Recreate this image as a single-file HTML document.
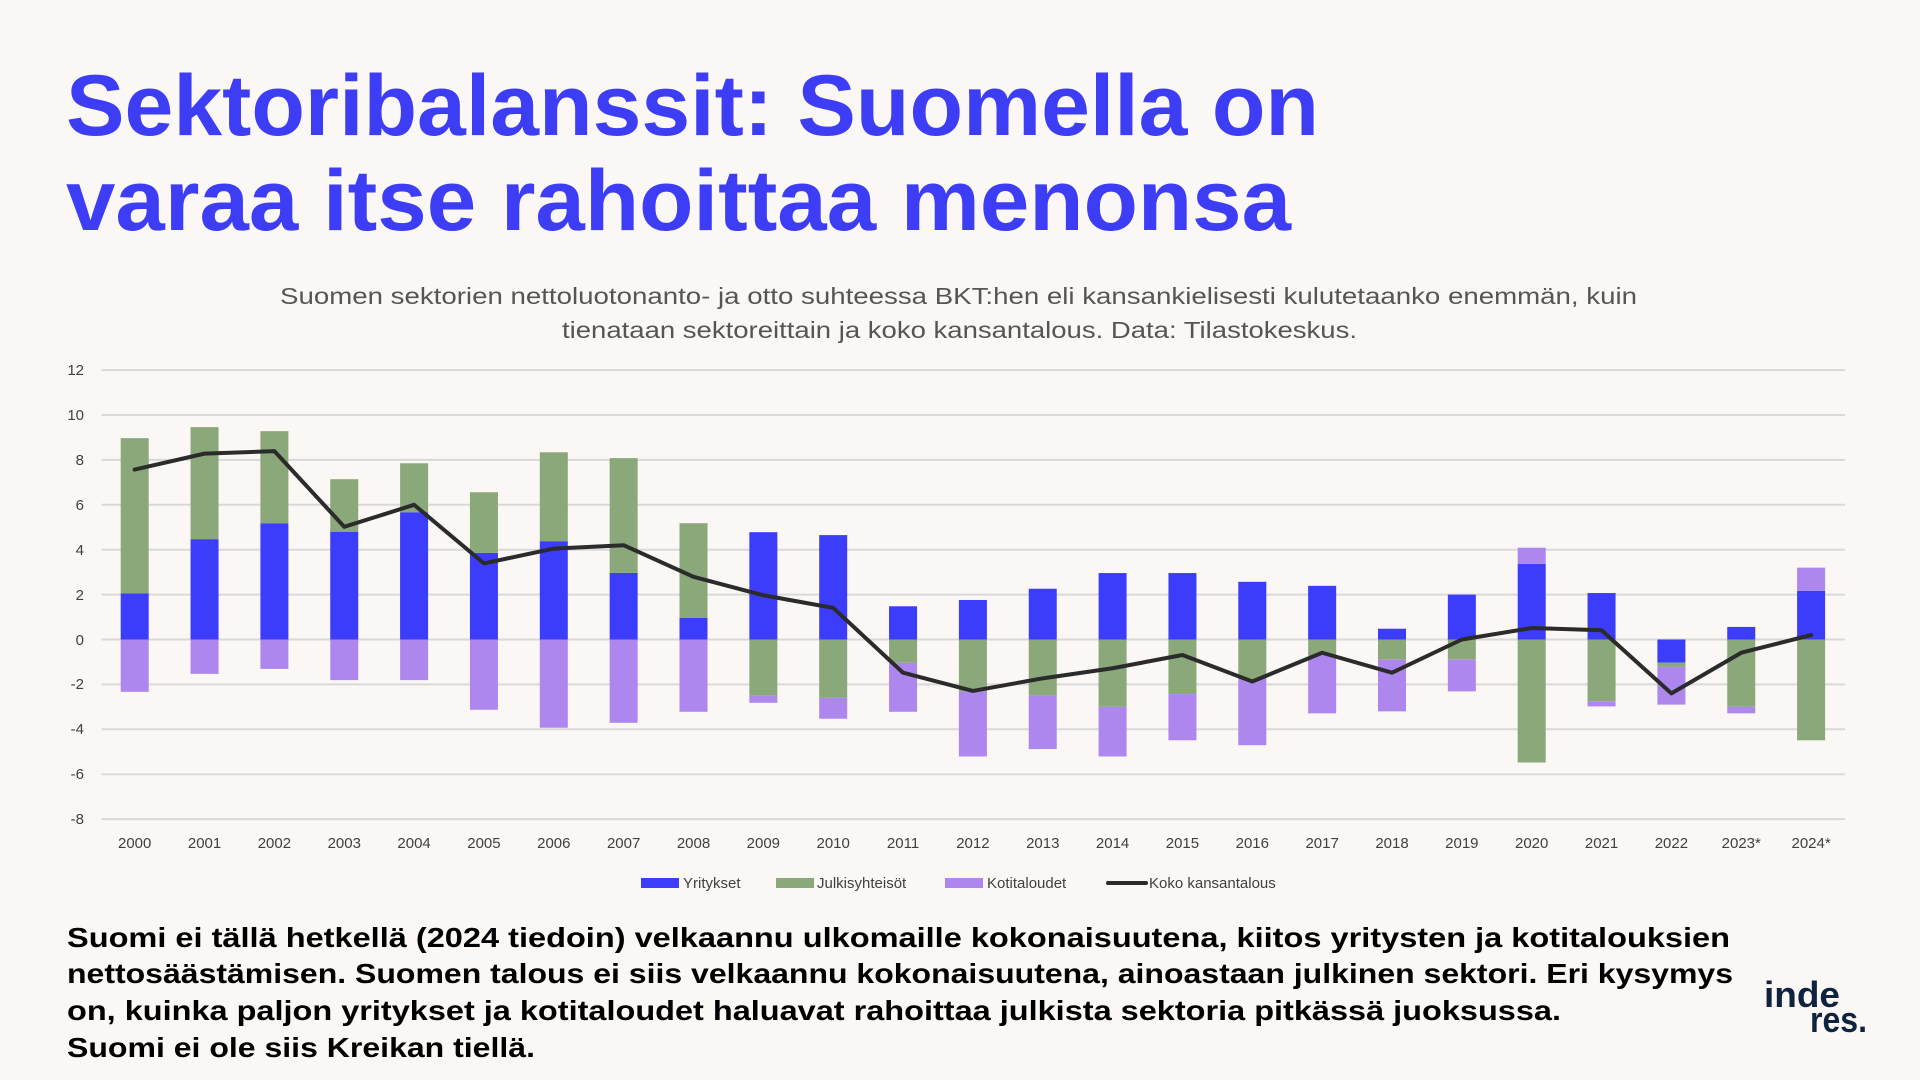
<!DOCTYPE html>
<html><head><meta charset="utf-8"><style>
html,body{margin:0;padding:0;background:#faf7f4;}
svg{display:block}
</style></head><body>
<svg width="1920" height="1080" viewBox="0 0 1920 1080" xmlns="http://www.w3.org/2000/svg">
<rect width="1920" height="1080" fill="#faf7f4"/>
<g font-family="Liberation Sans, Arial, sans-serif" font-weight="bold" fill="#3d3df5" font-size="86">
<text x="66" y="135" textLength="1253" lengthAdjust="spacingAndGlyphs">Sektoribalanssit: Suomella on</text>
<text x="66" y="230" textLength="1225" lengthAdjust="spacingAndGlyphs">varaa itse rahoittaa menonsa</text>
</g>
<g font-family="Liberation Sans, Arial, sans-serif" fill="#555" font-size="23">
<text x="280" y="304" textLength="1357" lengthAdjust="spacingAndGlyphs">Suomen sektorien nettoluotonanto- ja otto suhteessa BKT:hen eli kansankielisesti kulutetaanko enemmän, kuin</text>
<text x="562" y="338" textLength="795" lengthAdjust="spacingAndGlyphs">tienataan sektoreittain ja koko kansantalous. Data: Tilastokeskus.</text>
</g>
<g stroke="#d9d9d9" stroke-width="2">
<line x1="101.6" x2="1845" y1="370.1" y2="370.1"/><line x1="101.6" x2="1845" y1="415" y2="415"/>
<line x1="101.6" x2="1845" y1="459.9" y2="459.9"/><line x1="101.6" x2="1845" y1="504.8" y2="504.8"/>
<line x1="101.6" x2="1845" y1="549.7" y2="549.7"/><line x1="101.6" x2="1845" y1="594.6" y2="594.6"/>
<line x1="101.6" x2="1845" y1="639.5" y2="639.5"/><line x1="101.6" x2="1845" y1="684.4" y2="684.4"/>
<line x1="101.6" x2="1845" y1="729.3" y2="729.3"/><line x1="101.6" x2="1845" y1="774.2" y2="774.2"/>
<line x1="101.6" x2="1845" y1="819.1" y2="819.1"/>
</g>
<g font-family="Liberation Sans Narrow, Liberation Sans, sans-serif" font-size="15" fill="#404040" text-anchor="end">
<text x="84" y="375">12</text><text x="84" y="420">10</text><text x="84" y="465">8</text><text x="84" y="510">6</text>
<text x="84" y="555">4</text><text x="84" y="600">2</text><text x="84" y="645">0</text><text x="84" y="689">-2</text>
<text x="84" y="734">-4</text><text x="84" y="779">-6</text><text x="84" y="824">-8</text>
</g>
<g transform="translate(0,639.5) scale(1,-22.45)">
<g fill="#3c3cfb">
<rect x="120.7" y="0" width="28" height="2.06"/><rect x="190.55" y="0" width="28" height="4.47"/>
<rect x="260.4" y="0" width="28" height="5.18"/><rect x="330.25" y="0" width="28" height="4.8"/>
<rect x="400.1" y="0" width="28" height="5.67"/><rect x="469.95" y="0" width="28" height="3.86"/>
<rect x="539.8" y="0" width="28" height="4.38"/><rect x="609.65" y="0" width="28" height="2.97"/>
<rect x="679.5" y="0" width="28" height="0.97"/><rect x="749.35" y="0" width="28" height="4.78"/>
<rect x="819.2" y="0" width="28" height="4.65"/><rect x="889.05" y="0" width="28" height="1.48"/>
<rect x="958.9" y="0" width="28" height="1.76"/><rect x="1028.75" y="0" width="28" height="2.26"/>
<rect x="1098.6" y="0" width="28" height="2.96"/><rect x="1168.45" y="0" width="28" height="2.96"/>
<rect x="1238.3" y="0" width="28" height="2.57"/><rect x="1308.15" y="0" width="28" height="2.39"/>
<rect x="1378" y="0" width="28" height="0.48"/><rect x="1447.85" y="0" width="28" height="2.0"/>
<rect x="1517.7" y="0" width="28" height="3.37"/><rect x="1587.55" y="0" width="28" height="2.07"/>
<rect x="1657.4" y="-1.03" width="28" height="1.03"/><rect x="1727.25" y="0" width="28" height="0.56"/>
<rect x="1797.1" y="0" width="28" height="2.17"/>
</g>
<g fill="#8aa87a">
<rect x="120.7" y="2.06" width="28" height="6.91"/><rect x="190.55" y="4.47" width="28" height="4.99"/>
<rect x="260.4" y="5.18" width="28" height="4.1"/><rect x="330.25" y="4.8" width="28" height="2.34"/>
<rect x="400.1" y="5.67" width="28" height="2.18"/><rect x="469.95" y="3.86" width="28" height="2.7"/>
<rect x="539.8" y="4.38" width="28" height="3.96"/><rect x="609.65" y="2.97" width="28" height="5.11"/>
<rect x="679.5" y="0.97" width="28" height="4.21"/>
<rect x="749.35" y="-2.51" width="28" height="2.51"/><rect x="819.2" y="-2.6" width="28" height="2.6"/>
<rect x="889.05" y="-1.04" width="28" height="1.04"/><rect x="958.9" y="-2.32" width="28" height="2.32"/>
<rect x="1028.75" y="-2.5" width="28" height="2.5"/><rect x="1098.6" y="-3.0" width="28" height="3.0"/>
<rect x="1168.45" y="-2.43" width="28" height="2.43"/><rect x="1238.3" y="-1.78" width="28" height="1.78"/>
<rect x="1308.15" y="-0.69" width="28" height="0.69"/><rect x="1378" y="-0.9" width="28" height="0.9"/>
<rect x="1447.85" y="-0.9" width="28" height="0.9"/><rect x="1517.7" y="-5.48" width="28" height="5.48"/>
<rect x="1587.55" y="-2.75" width="28" height="2.75"/><rect x="1657.4" y="-1.22" width="28" height="0.19"/>
<rect x="1727.25" y="-3.0" width="28" height="3.0"/><rect x="1797.1" y="-4.49" width="28" height="4.49"/>
</g>
<g fill="#ae87ee">
<rect x="120.7" y="-2.33" width="28" height="2.33"/><rect x="190.55" y="-1.53" width="28" height="1.53"/>
<rect x="260.4" y="-1.31" width="28" height="1.31"/><rect x="330.25" y="-1.81" width="28" height="1.81"/>
<rect x="400.1" y="-1.81" width="28" height="1.81"/><rect x="469.95" y="-3.13" width="28" height="3.13"/>
<rect x="539.8" y="-3.93" width="28" height="3.93"/><rect x="609.65" y="-3.71" width="28" height="3.71"/>
<rect x="679.5" y="-3.22" width="28" height="3.22"/>
<rect x="749.35" y="-2.82" width="28" height="0.31"/><rect x="819.2" y="-3.53" width="28" height="0.93"/>
<rect x="889.05" y="-3.22" width="28" height="2.18"/><rect x="958.9" y="-5.21" width="28" height="2.89"/>
<rect x="1028.75" y="-4.88" width="28" height="2.38"/><rect x="1098.6" y="-5.21" width="28" height="2.21"/>
<rect x="1168.45" y="-4.49" width="28" height="2.06"/><rect x="1238.3" y="-4.71" width="28" height="2.93"/>
<rect x="1308.15" y="-3.29" width="28" height="2.6"/><rect x="1378" y="-3.2" width="28" height="2.3"/>
<rect x="1447.85" y="-2.31" width="28" height="1.41"/><rect x="1517.7" y="3.37" width="28" height="0.72"/>
<rect x="1587.55" y="-2.98" width="28" height="0.23"/><rect x="1657.4" y="-2.9" width="28" height="1.68"/>
<rect x="1727.25" y="-3.29" width="28" height="0.29"/><rect x="1797.1" y="2.17" width="28" height="1.03"/>
</g>
<polyline fill="none" stroke="#2b2b2b" stroke-width="4" vector-effect="non-scaling-stroke" stroke-linejoin="round" stroke-linecap="round"
points="134.7,7.57 204.55,8.28 274.4,8.39 344.25,5.02 414.1,6.0 483.95,3.39 553.8,4.05 623.65,4.2 693.5,2.79 763.35,1.97 833.2,1.41 903.05,-1.48 972.9,-2.29 1042.75,-1.73 1112.6,-1.28 1182.45,-0.69 1252.3,-1.87 1322.15,-0.59 1392,-1.48 1461.85,0 1531.7,0.51 1601.55,0.41 1671.4,-2.4 1741.25,-0.59 1811.1,0.2"/>
</g>
<g font-family="Liberation Sans Narrow, Liberation Sans, sans-serif" font-size="15" fill="#404040" text-anchor="middle">
<text x="134.7" y="848">2000</text><text x="204.55" y="848">2001</text><text x="274.4" y="848">2002</text>
<text x="344.25" y="848">2003</text><text x="414.1" y="848">2004</text><text x="483.95" y="848">2005</text>
<text x="553.8" y="848">2006</text><text x="623.65" y="848">2007</text><text x="693.5" y="848">2008</text>
<text x="763.35" y="848">2009</text><text x="833.2" y="848">2010</text><text x="903.05" y="848">2011</text>
<text x="972.9" y="848">2012</text><text x="1042.75" y="848">2013</text><text x="1112.6" y="848">2014</text>
<text x="1182.45" y="848">2015</text><text x="1252.3" y="848">2016</text><text x="1322.15" y="848">2017</text>
<text x="1392" y="848">2018</text><text x="1461.85" y="848">2019</text><text x="1531.7" y="848">2020</text>
<text x="1601.55" y="848">2021</text><text x="1671.4" y="848">2022</text><text x="1741.25" y="848">2023*</text>
<text x="1811.1" y="848">2024*</text>
</g>
<g font-family="Liberation Sans Narrow, Liberation Sans, sans-serif" font-size="15" fill="#404040">
<rect x="641" y="878" width="38" height="10" fill="#3c3cfb"/>
<text x="683" y="888">Yritykset</text>
<rect x="776" y="878" width="38" height="10" fill="#8aa87a"/>
<text x="817" y="888">Julkisyhteisöt</text>
<rect x="945" y="878" width="38" height="10" fill="#ae87ee"/>
<text x="987" y="888">Kotitaloudet</text>
<line x1="1108" x2="1146" y1="883" y2="883" stroke="#2b2b2b" stroke-width="4" stroke-linecap="round"/>
<text x="1149" y="888">Koko kansantalous</text>
</g>
<g font-family="Liberation Sans, Arial, sans-serif" font-weight="bold" fill="#000" font-size="28">
<text x="67" y="947" textLength="1663" lengthAdjust="spacingAndGlyphs">Suomi ei tällä hetkellä (2024 tiedoin) velkaannu ulkomaille kokonaisuutena, kiitos yritysten ja kotitalouksien</text>
<text x="67" y="983" textLength="1666" lengthAdjust="spacingAndGlyphs">nettosäästämisen. Suomen talous ei siis velkaannu kokonaisuutena, ainoastaan julkinen sektori. Eri kysymys</text>
<text x="67" y="1020" textLength="1494" lengthAdjust="spacingAndGlyphs">on, kuinka paljon yritykset ja kotitaloudet haluavat rahoittaa julkista sektoria pitkässä juoksussa.</text>
<text x="67" y="1057" textLength="468" lengthAdjust="spacingAndGlyphs">Suomi ei ole siis Kreikan tiellä.</text>
</g>
<g font-family="Liberation Sans, Arial, sans-serif" font-weight="bold" fill="#0f2340" font-size="36">
<text x="1764" y="1007" textLength="76" lengthAdjust="spacingAndGlyphs">inde</text>
<text x="1810" y="1032" textLength="57" lengthAdjust="spacingAndGlyphs">res.</text>
</g>
</svg>
</body></html>
